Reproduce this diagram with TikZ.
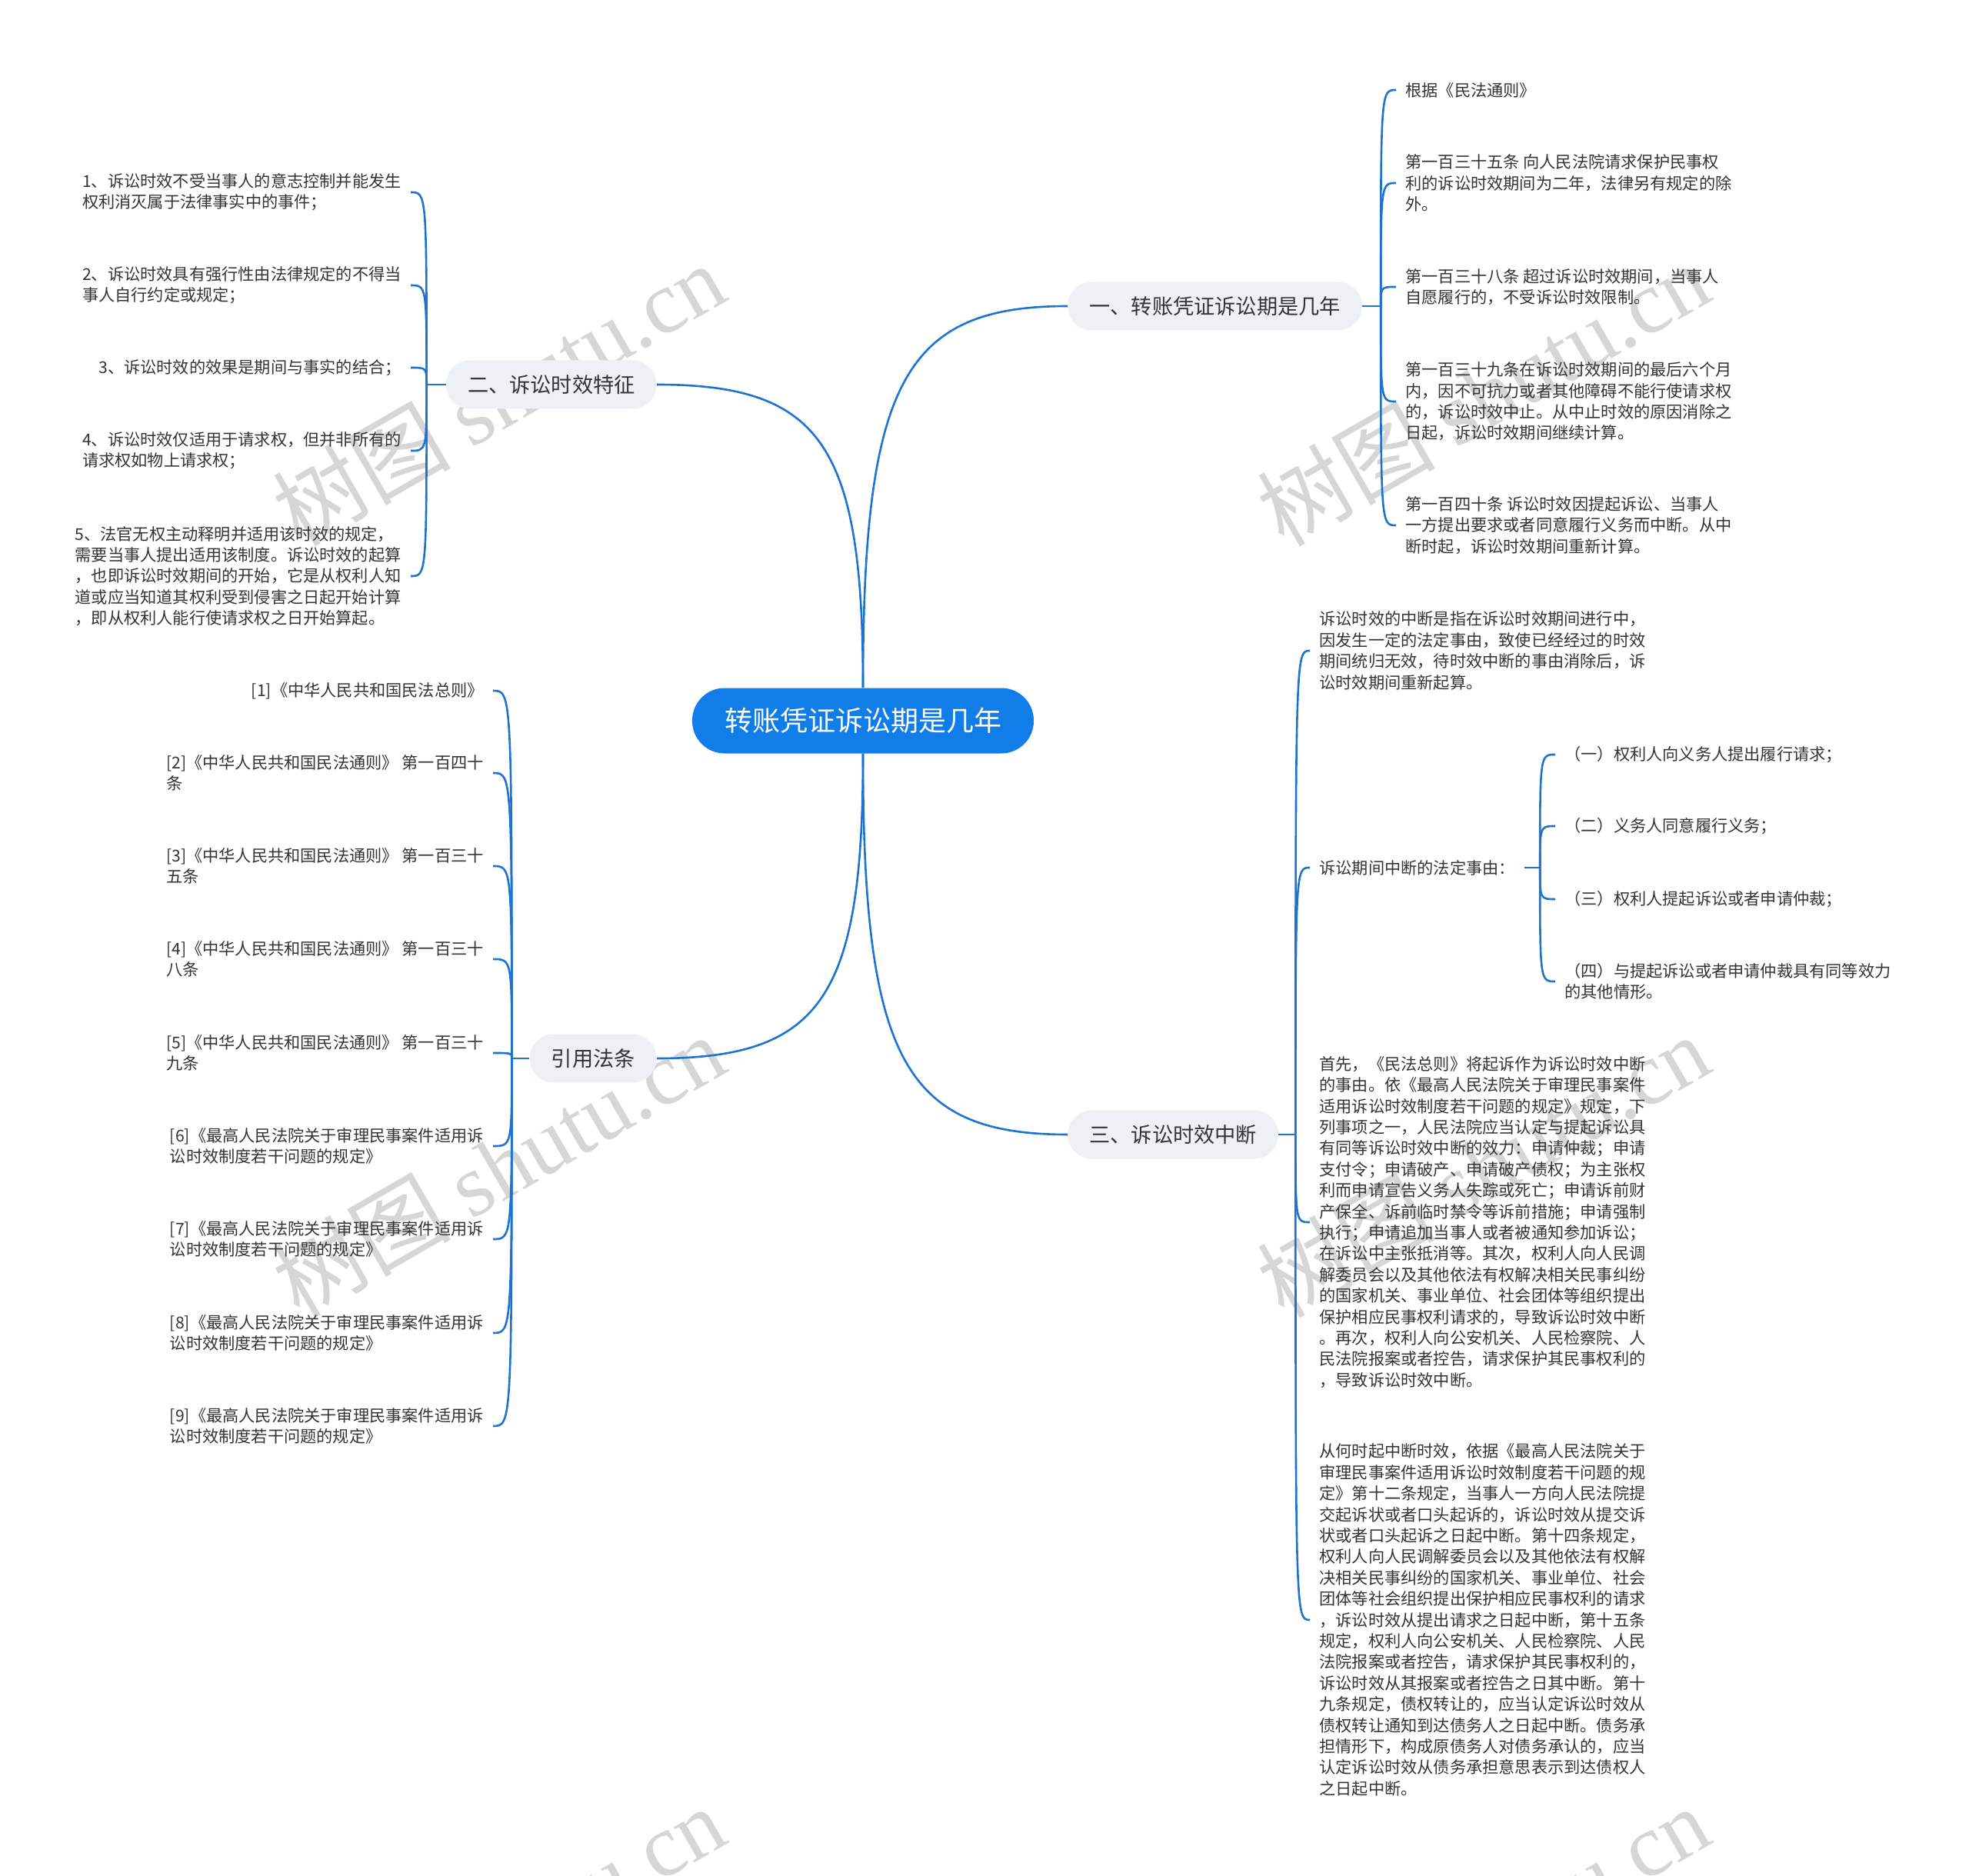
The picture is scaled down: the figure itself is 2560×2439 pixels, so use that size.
\documentclass[tikz,border=0pt]{standalone}
\usepackage{fontspec}
\setmainfont{Noto Sans CJK SC}
\newfontfamily\markserif{Liberation Serif}
\usetikzlibrary{positioning, calc}

\definecolor{rootblue}{RGB}{16,125,233}
\definecolor{linkblue}{RGB}{28,115,210}
\definecolor{branchgray}{RGB}{237,240,244}
\definecolor{inkgray}{RGB}{51,51,51}
\definecolor{markgray}{RGB}{214,214,214}

\begin{document}
\begin{tikzpicture}[
        x=0.5pt, y=-0.5pt,
        root/.style={fill=rootblue, text=white, rounded corners=21pt, minimum height=42.5pt,
            inner xsep=21pt, inner ysep=0pt, font=\fontsize{18pt}{22pt}\selectfont},
        branch/.style={fill=branchgray, text=inkgray, rounded corners=15.5pt, minimum height=31.5pt,
            inner xsep=14pt, inner ysep=0pt, font=\fontsize{13.6pt}{16pt}\selectfont},
        leaf/.style={text=inkgray, align=left, inner xsep=6pt, inner ysep=0pt,
            font=\fontsize{10.6pt}{13.7pt}\selectfont},
        link/.style={draw=linkblue, line width=1.3pt},
        wmark/.style={text=markgray, rotate=30, inner sep=0pt, font=\fontsize{58pt}{60pt}\selectfont}
    ]
        \useasboundingbox (0,0) rectangle (2560,2439);

        % Watermark
        \begin{scope}
            \clip (0,0) rectangle (2560,2439);
            \foreach \wx/\wy [count=\i] in {648/512, 1928/512, 648/1515, 1928/1515, 648/2518, 1928/2518}
                \node[wmark] (wm\i) at (\wx,\wy) {树图 {\markserif shutu.cn}};
        \end{scope}

        % Root and branches
        \node[root] (root) at (1122,937) {转账凭证诉讼期是几年};
        \node[branch, anchor=west] (b1) at (1388,398) {一、转账凭证诉讼期是几年};
        \node[branch, anchor=east] (b2) at (854,500) {二、诉讼时效特征};
        \node[branch, anchor=west] (b3) at (1388,1475) {三、诉讼时效中断};
        \node[branch, anchor=east] (b4) at (854,1376) {引用法条};

        % Leaves of b1
        \node[leaf, anchor=west] (a1) at (1815,117) {根据《民法通则》};
        \node[leaf, anchor=west] (a2) at (1815,238) {第一百三十五条 向人民法院请求保护民事权\\利的诉讼时效期间为二年，法律另有规定的除\\外。};
        \node[leaf, anchor=west] (a3) at (1815,373) {第一百三十八条 超过诉讼时效期间，当事人\\自愿履行的，不受诉讼时效限制。};
        \node[leaf, anchor=west] (a4) at (1815,522) {第一百三十九条在诉讼时效期间的最后六个月\\内，因不可抗力或者其他障碍不能行使请求权\\的，诉讼时效中止。从中止时效的原因消除之\\日起，诉讼时效期间继续计算。};
        \node[leaf, anchor=west] (a5) at (1815,683) {第一百四十条 诉讼时效因提起诉讼、当事人\\一方提出要求或者同意履行义务而中断。从中\\断时起，诉讼时效期间重新计算。};

        % Leaves of b2
        \node[leaf, anchor=east] (f1) at (534,250) {1、诉讼时效不受当事人的意志控制并能发生\\权利消灭属于法律事实中的事件；};
        \node[leaf, anchor=east] (f2) at (534,371) {2、诉讼时效具有强行性由法律规定的不得当\\事人自行约定或规定；};
        \node[leaf, anchor=east] (f3) at (534,478) {3、诉讼时效的效果是期间与事实的结合；};
        \node[leaf, anchor=east] (f4) at (534,586) {4、诉讼时效仅适用于请求权，但并非所有的\\请求权如物上请求权；};
        \node[leaf, anchor=east] (f5) at (534,749) {5、法官无权主动释明并适用该时效的规定，\\需要当事人提出适用该制度。诉讼时效的起算\\，也即诉讼时效期间的开始，它是从权利人知\\道或应当知道其权利受到侵害之日起开始计算\\，即从权利人能行使请求权之日开始算起。};

        % Leaves of b4
        \node[leaf, anchor=east] (c1) at (641,898) {[1]《中华人民共和国民法总则》};
        \node[leaf, anchor=east] (c2) at (641,1005) {[2]《中华人民共和国民法通则》 第一百四十\\条};
        \node[leaf, anchor=east] (c3) at (641,1126) {[3]《中华人民共和国民法通则》 第一百三十\\五条};
        \node[leaf, anchor=east] (c4) at (641,1247) {[4]《中华人民共和国民法通则》 第一百三十\\八条};
        \node[leaf, anchor=east] (c5) at (641,1369) {[5]《中华人民共和国民法通则》 第一百三十\\九条};
        \node[leaf, anchor=east] (c6) at (641,1490) {[6]《最高人民法院关于审理民事案件适用诉\\讼时效制度若干问题的规定》};
        \node[leaf, anchor=east] (c7) at (641,1611) {[7]《最高人民法院关于审理民事案件适用诉\\讼时效制度若干问题的规定》};
        \node[leaf, anchor=east] (c8) at (641,1733) {[8]《最高人民法院关于审理民事案件适用诉\\讼时效制度若干问题的规定》};
        \node[leaf, anchor=east] (c9) at (641,1854) {[9]《最高人民法院关于审理民事案件适用诉\\讼时效制度若干问题的规定》};

        % Leaves of b3
        \node[leaf, anchor=west] (d1) at (1703,846) {诉讼时效的中断是指在诉讼时效期间进行中，\\因发生一定的法定事由，致使已经经过的时效\\期间统归无效，待时效中断的事由消除后，诉\\讼时效期间重新起算。};
        \node[leaf, anchor=west] (d2) at (1703,1128) {诉讼期间中断的法定事由：};
        \node[leaf, anchor=west] (d3) at (1703,1589) {首先，《民法总则》将起诉作为诉讼时效中断\\的事由。依《最高人民法院关于审理民事案件\\适用诉讼时效制度若干问题的规定》规定，下\\列事项之一，人民法院应当认定与提起诉讼具\\有同等诉讼时效中断的效力：申请仲裁；申请\\支付令；申请破产、申请破产债权；为主张权\\利而申请宣告义务人失踪或死亡；申请诉前财\\产保全、诉前临时禁令等诉前措施；申请强制\\执行；申请追加当事人或者被通知参加诉讼；\\在诉讼中主张抵消等。其次，权利人向人民调\\解委员会以及其他依法有权解决相关民事纠纷\\的国家机关、事业单位、社会团体等组织提出\\保护相应民事权利请求的，导致诉讼时效中断\\。再次，权利人向公安机关、人民检察院、人\\民法院报案或者控告，请求保护其民事权利的\\，导致诉讼时效中断。};
        \node[leaf, anchor=west] (d4) at (1703,2106) {从何时起中断时效，依据《最高人民法院关于\\审理民事案件适用诉讼时效制度若干问题的规\\定》第十二条规定，当事人一方向人民法院提\\交起诉状或者口头起诉的，诉讼时效从提交诉\\状或者口头起诉之日起中断。第十四条规定，\\权利人向人民调解委员会以及其他依法有权解\\决相关民事纠纷的国家机关、事业单位、社会\\团体等社会组织提出保护相应民事权利的请求\\，诉讼时效从提出请求之日起中断，第十五条\\规定，权利人向公安机关、人民检察院、人民\\法院报案或者控告，请求保护其民事权利的，\\诉讼时效从其报案或者控告之日其中断。第十\\九条规定，债权转让的，应当认定诉讼时效从\\债权转让通知到达债务人之日起中断。债务承\\担情形下，构成原债务人对债务承认的，应当\\认定诉讼时效从债务承担意思表示到达债权人\\之日起中断。};

        % Leaves of d2
        \node[leaf, anchor=west] (e1) at (2022,981) {（一）权利人向义务人提出履行请求；};
        \node[leaf, anchor=west] (e2) at (2022,1074) {（二）义务人同意履行义务；};
        \node[leaf, anchor=west] (e3) at (2022,1169) {（三）权利人提起诉讼或者申请仲裁；};
        \node[leaf, anchor=west] (e4) at (2022,1276) {（四）与提起诉讼或者申请仲裁具有同等效力\\的其他情形。};

        % Trunks
        \coordinate[right=12pt of b1] (t1);
        \coordinate[left=12.5pt of b2] (t2);
        \coordinate[right=11pt of b3] (t3);
        \coordinate[left=11.5pt of b4] (t4);
        \coordinate[right=10pt of d2] (t5);

        % Lines from root
        \draw[link] (root.north) .. controls ($(root.north)!0.8!(root.north |- b1.west)$) and ($(b1.west)!0.8!(root.north |- b1.west)$) .. (b1.west);
        \draw[link] (root.north) .. controls ($(root.north)!0.8!(root.north |- b2.east)$) and ($(b2.east)!0.8!(root.north |- b2.east)$) .. (b2.east);
        \draw[link] (root.south) .. controls ($(root.south)!0.8!(root.south |- b3.west)$) and ($(b3.west)!0.8!(root.south |- b3.west)$) .. (b3.west);
        \draw[link] (root.south) .. controls ($(root.south)!0.8!(root.south |- b4.east)$) and ($(b4.east)!0.8!(root.south |- b4.east)$) .. (b4.east);

        % Brackets
        \draw[link] (b1.east) -- (t1);
        \draw[link] (b2.west) -- (t2);
        \draw[link] (b3.east) -- (t3);
        \draw[link] (b4.west) -- (t4);
        \draw[link] (d2.east) -- (t5);
        \foreach \n in {a1,a2,a3,a4,a5}
            \draw[link] (t1) .. controls (t1 |- \n.west) .. (\n.west);
        \foreach \n in {f1,f2,f3,f4,f5}
            \draw[link] (t2) .. controls (t2 |- \n.east) .. (\n.east);
        \foreach \n in {d1,d2,d3,d4}
            \draw[link] (t3) .. controls (t3 |- \n.west) .. (\n.west);
        \foreach \n in {c1,c2,c3,c4,c5,c6,c7,c8,c9}
            \draw[link] (t4) .. controls (t4 |- \n.east) .. (\n.east);
        \foreach \n in {e1,e2,e3,e4}
            \draw[link] (t5) .. controls (t5 |- \n.west) .. (\n.west);
    \end{tikzpicture}
\end{document}
